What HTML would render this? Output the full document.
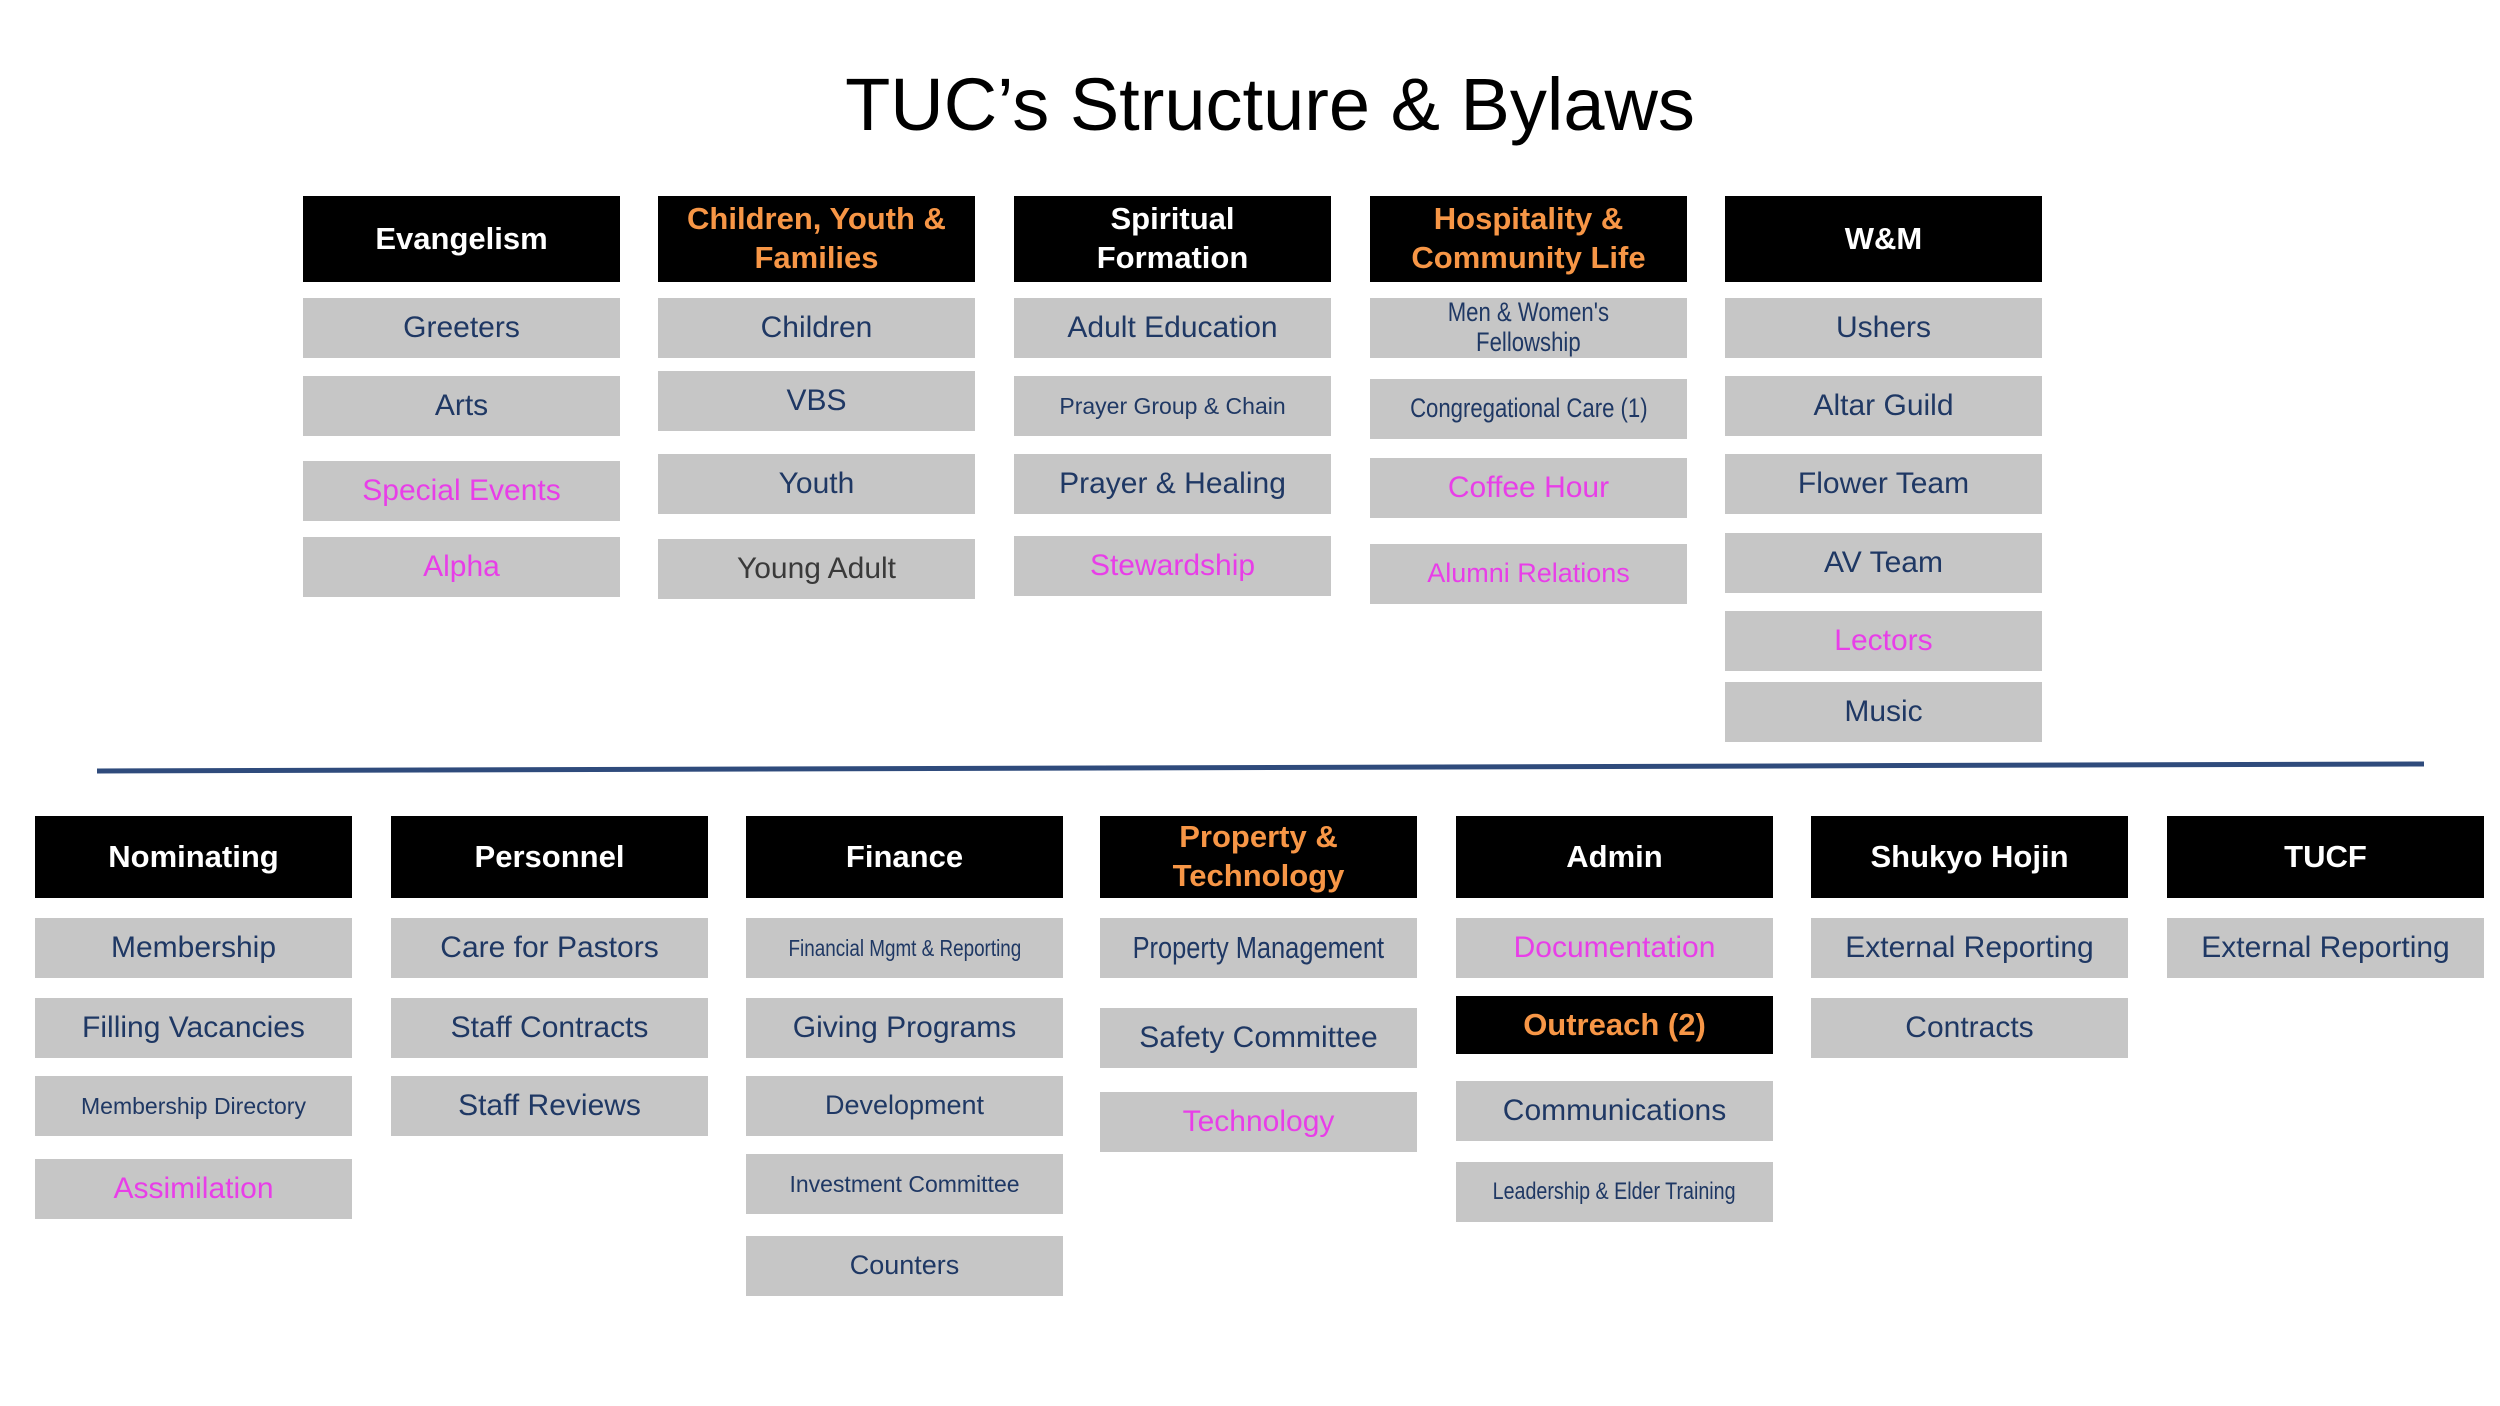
<!DOCTYPE html>
<html><head><meta charset="utf-8"><style>
body{margin:0;width:2500px;height:1406px;background:#fff;position:relative;overflow:hidden;font-family:"Liberation Sans",sans-serif}
.b{position:absolute;display:flex;align-items:center;justify-content:center;text-align:center;box-sizing:border-box;line-height:1.25}
.h{background:#000;color:#fff;font-weight:bold;font-size:31px;height:86px;width:317px}
.s{background:#c6c6c6;color:#1f3864;font-size:30px;height:60px;width:317px}
.o{color:#f79646}
.m{color:#e83ee8}
.sm{font-size:23px}
.n{display:inline-block;transform:scaleX(.82)}
</style></head><body>
<div class="b" style="left:0;top:60px;width:2540px;height:90px;font-size:74px;color:#000">TUC’s Structure &amp; Bylaws</div>

<!-- top row -->
<div class="b h" style="left:303px;top:196px">Evangelism</div>
<div class="b s" style="left:303px;top:298px">Greeters</div>
<div class="b s" style="left:303px;top:376px">Arts</div>
<div class="b s m" style="left:303px;top:461px">Special Events</div>
<div class="b s m" style="left:303px;top:537px">Alpha</div>

<div class="b h o" style="left:658px;top:196px">Children, Youth &amp;<br>Families</div>
<div class="b s" style="left:658px;top:298px">Children</div>
<div class="b s" style="left:658px;top:371px">VBS</div>
<div class="b s" style="left:658px;top:454px">Youth</div>
<div class="b s" style="left:658px;top:539px;color:#3a3a3a">Young Adult</div>

<div class="b h" style="left:1014px;top:196px">Spiritual<br>Formation</div>
<div class="b s" style="left:1014px;top:298px">Adult Education</div>
<div class="b s sm" style="left:1014px;top:376px">Prayer Group &amp; Chain</div>
<div class="b s" style="left:1014px;top:454px">Prayer &amp; Healing</div>
<div class="b s m" style="left:1014px;top:536px">Stewardship</div>

<div class="b h o" style="left:1370px;top:196px">Hospitality &amp;<br>Community Life</div>
<div class="b s" style="left:1370px;top:298px;font-size:27px;line-height:1.1"><span class="n">Men &amp; Women's<br>Fellowship</span></div>
<div class="b s" style="left:1370px;top:379px;font-size:27px"><span class="n">Congregational Care (1)</span></div>
<div class="b s m" style="left:1370px;top:458px">Coffee Hour</div>
<div class="b s m" style="left:1370px;top:544px;font-size:27px">Alumni Relations</div>

<div class="b h" style="left:1725px;top:196px">W&amp;M</div>
<div class="b s" style="left:1725px;top:298px">Ushers</div>
<div class="b s" style="left:1725px;top:376px">Altar Guild</div>
<div class="b s" style="left:1725px;top:454px">Flower Team</div>
<div class="b s" style="left:1725px;top:533px">AV Team</div>
<div class="b s m" style="left:1725px;top:611px">Lectors</div>
<div class="b s" style="left:1725px;top:682px">Music</div>

<svg style="position:absolute;left:0;top:0" width="2500" height="1406"><line x1="97" y1="771" x2="2424" y2="764" stroke="#2f4b7c" stroke-width="5"/></svg>

<!-- bottom row -->
<div class="b h" style="left:35px;top:816px;height:82px">Nominating</div>
<div class="b s" style="left:35px;top:918px">Membership</div>
<div class="b s" style="left:35px;top:998px">Filling Vacancies</div>
<div class="b s sm" style="left:35px;top:1076px">Membership Directory</div>
<div class="b s m" style="left:35px;top:1159px">Assimilation</div>

<div class="b h" style="left:391px;top:816px;height:82px">Personnel</div>
<div class="b s" style="left:391px;top:918px">Care for Pastors</div>
<div class="b s" style="left:391px;top:998px">Staff Contracts</div>
<div class="b s" style="left:391px;top:1076px">Staff Reviews</div>

<div class="b h" style="left:746px;top:816px;height:82px">Finance</div>
<div class="b s" style="left:746px;top:918px;font-size:23px"><span class="n">Financial Mgmt &amp; Reporting</span></div>
<div class="b s" style="left:746px;top:998px">Giving Programs</div>
<div class="b s" style="left:746px;top:1076px;font-size:27px">Development</div>
<div class="b s sm" style="left:746px;top:1154px">Investment Committee</div>
<div class="b s" style="left:746px;top:1236px;font-size:27px">Counters</div>

<div class="b h o" style="left:1100px;top:816px;height:82px">Property &amp;<br>Technology</div>
<div class="b s" style="left:1100px;top:918px;font-size:31px"><span class="n">Property Management</span></div>
<div class="b s" style="left:1100px;top:1008px">Safety Committee</div>
<div class="b s m" style="left:1100px;top:1092px">Technology</div>

<div class="b h" style="left:1456px;top:816px;height:82px">Admin</div>
<div class="b s m" style="left:1456px;top:918px">Documentation</div>
<div class="b h o" style="left:1456px;top:996px;height:58px">Outreach (2)</div>
<div class="b s" style="left:1456px;top:1081px">Communications</div>
<div class="b s" style="left:1456px;top:1162px;font-size:24px"><span class="n">Leadership &amp; Elder Training</span></div>

<div class="b h" style="left:1811px;top:816px;height:82px">Shukyo Hojin</div>
<div class="b s" style="left:1811px;top:918px">External Reporting</div>
<div class="b s" style="left:1811px;top:998px">Contracts</div>

<div class="b h" style="left:2167px;top:816px;height:82px">TUCF</div>
<div class="b s" style="left:2167px;top:918px">External Reporting</div>
</body></html>
